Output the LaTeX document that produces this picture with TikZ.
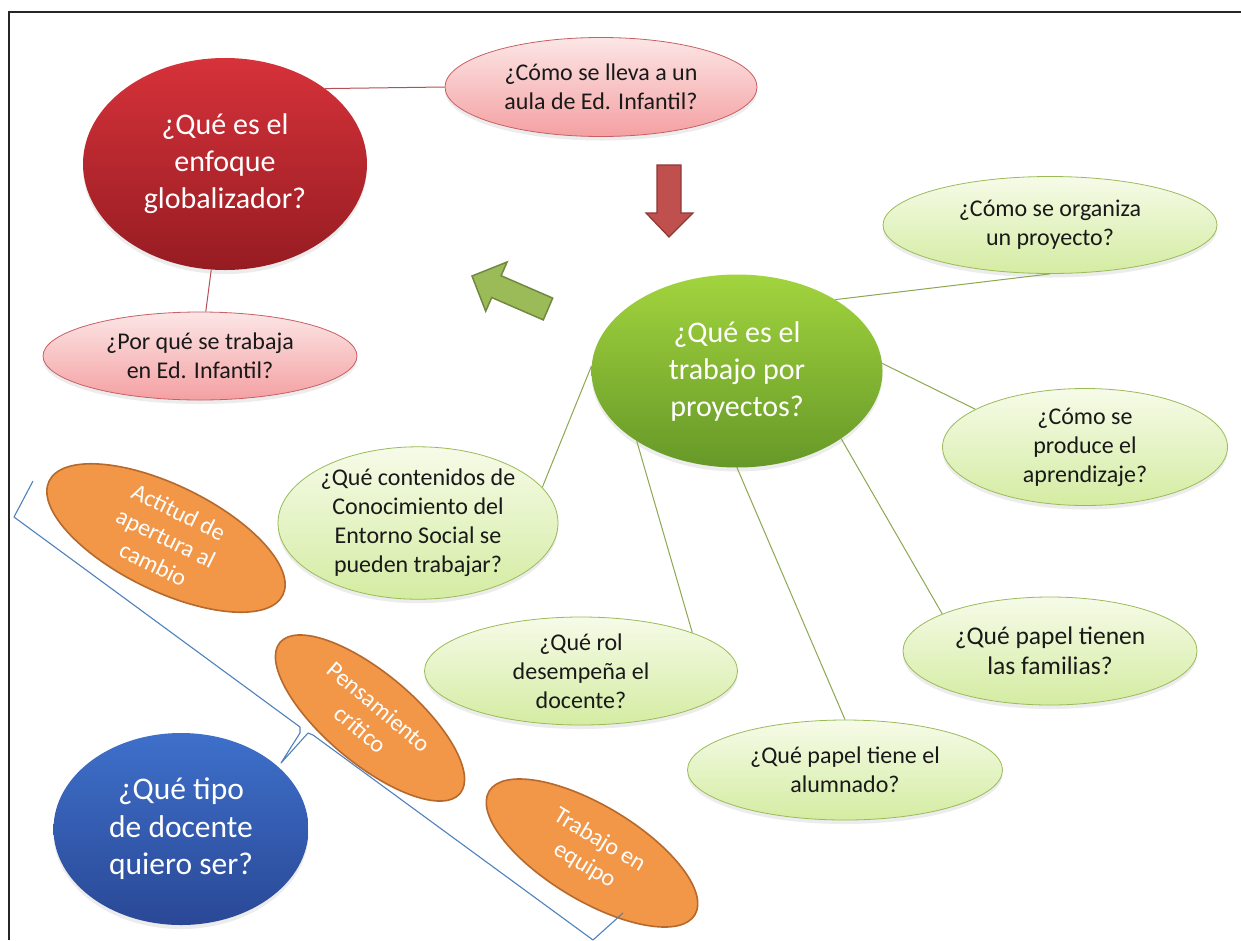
\documentclass[tikz,border=0pt]{standalone}
\usepackage{fontspec}
\setmainfont{Carlito}
\usetikzlibrary{shapes.geometric,shadows}
\definecolor{redT}{RGB}{214,50,58}
\definecolor{redB}{RGB}{150,28,34}
\definecolor{pinkT}{RGB}{252,230,230}
\definecolor{pinkB}{RGB}{244,160,162}
\definecolor{pinkD}{RGB}{200,95,100}
\definecolor{lgT}{RGB}{246,251,232}
\definecolor{lgB}{RGB}{212,236,162}
\definecolor{lgD}{RGB}{155,187,89}
\definecolor{grT}{RGB}{162,212,62}
\definecolor{grB}{RGB}{102,152,40}
\definecolor{blT}{RGB}{62,112,202}
\definecolor{blB}{RGB}{42,72,150}
\definecolor{orF}{RGB}{242,150,72}
\definecolor{orD}{RGB}{182,105,45}
\definecolor{lineG}{RGB}{140,168,80}
\definecolor{lineR}{RGB}{180,80,85}
\definecolor{brk}{RGB}{79,129,189}
\definecolor{arrR}{RGB}{192,80,77}
\definecolor{arrRD}{RGB}{140,56,54}
\definecolor{arrG}{RGB}{155,187,89}
\definecolor{arrGD}{RGB}{113,137,63}
\begin{document}
\begin{tikzpicture}[x=1pt,y=-1pt,
  base/.style={ellipse, inner sep=0pt, align=center,
    drop shadow={opacity=0.15, shadow xshift=0pt, shadow yshift=-4pt}},
  bigq/.style={base, text=white, font=\fontsize{30}{37}\selectfont},
  smallq/.style={base, text=black!90, font=\fontsize{24}{29}\selectfont},
  redq/.style={bigq, top color=redT, bottom color=redB},
  greenq/.style={bigq, top color=grT, bottom color=grB},
  blueq/.style={bigq, top color=blT, bottom color=blB, font=\fontsize{31.5}{37.5}\selectfont},
  pinkq/.style={smallq, top color=pinkT, bottom color=pinkB, draw=pinkD, line width=0.8pt},
  lgq/.style={smallq, top color=lgT, bottom color=lgB, draw=lgD, line width=0.8pt},
  orq/.style={ellipse, inner sep=0pt, align=center, fill=orF, draw=orD, line width=1.6pt,
    text=white, font=\fontsize{24}{29}\selectfont},
  glink/.style={lineG, line width=1pt},
  rlink/.style={lineR, line width=1pt},
]
\useasboundingbox (0,0) rectangle (1241,940);
\fill[white] (0,0) rectangle (1241,940);
% frame
\draw[black!85, line width=1.3pt] (9,940) -- (9,12) -- (1241,12);

% red cluster
\node[redq, minimum width=284, minimum height=212] (R) at (225,164) {¿Qué es el\\enfoque\\globalizador?};
\node[pinkq, minimum width=312, minimum height=99] (P1) at (601,87) {¿Cómo se lleva a un\\aula de Ed. Infantil?};
\node[pinkq, minimum width=314, minimum height=88] (P2) at (200,356) {¿Por qué se trabaja\\en Ed. Infantil?};

% green cluster
\node[greenq, minimum width=291, minimum height=193] (G) at (737,371) {¿Qué es el\\trabajo por\\proyectos?};
\node[lgq, minimum width=334, minimum height=97] (O) at (1050,225) {¿Cómo se organiza\\un proyecto?};
\node[lgq, minimum width=285, minimum height=117] (Pr) at (1085,447) {¿Cómo se\\produce el\\aprendizaje?};
\node[lgq, minimum width=280, minimum height=147] (C) at (418,523) {¿Qué contenidos de\\Conocimiento del\\Entorno Social se\\pueden trabajar?};
\node[lgq, minimum width=313, minimum height=108] (Rol) at (581,671) {¿Qué rol\\desempeña el\\docente?};
\node[lgq, minimum width=294, minimum height=108, font=\fontsize{25.5}{30}\selectfont] (F) at (1050,651) {¿Qué papel tienen\\las familias?};
\node[lgq, minimum width=315, minimum height=100] (A) at (845,770) {¿Qué papel tiene el\\alumnado?};

% blue and orange
\node[blueq, minimum width=255, minimum height=192] (B) at (181,829) {¿Qué tipo\\de docente\\quiero ser?};
\node[orq, rotate=-26, minimum width=260, minimum height=90] (O1) at (166,538) {Actitud de\\apertura al\\cambio};
\node[orq, rotate=-40, minimum width=235, minimum height=90] (O2) at (370,718) {Pensamiento\\crítico};
\node[orq, rotate=-31, minimum width=240, minimum height=95] (O3) at (592,853) {Trabajo en\\equipo};

% connectors
\draw[rlink] (R.37) -- (P1.west);
\draw[rlink] (R) -- (P2);
\draw[glink] (G.36) -- (O.south);
\draw[glink] (G.3) -- (Pr.161);
\draw[glink] (G.-33) -- (F.161);
\draw[glink] (G.south) -- (A.north);
\draw[glink] (G.-145) -- (Rol.19);
\draw[glink] (G.178) -- (C.16);

% red block arrow (down)
\draw[fill=arrR, draw=arrRD, line width=1.2pt, line join=miter]
  (657,165) -- (681,165) -- (681,213) -- (693,213) -- (669,237) -- (646,213) -- (657,213) -- cycle;
% green block arrow (up-left)
\draw[fill=arrG, draw=arrGD, line width=1.5pt, line join=miter]
  (472,276) -- (507.1,262.0) -- (501.1,275.7) -- (552.7,298.1) -- (543.3,319.9)
  -- (491.7,297.5) -- (485.7,311.2) -- cycle;

% bracket
\draw[brk, line width=1.1pt, line join=round]
  (33,481) -- (14,517) -- (300,727) -- (300,733) -- (281,763) -- (308,733) -- (313,735) -- (593,940) -- (623,913);
\end{tikzpicture}
\end{document}
